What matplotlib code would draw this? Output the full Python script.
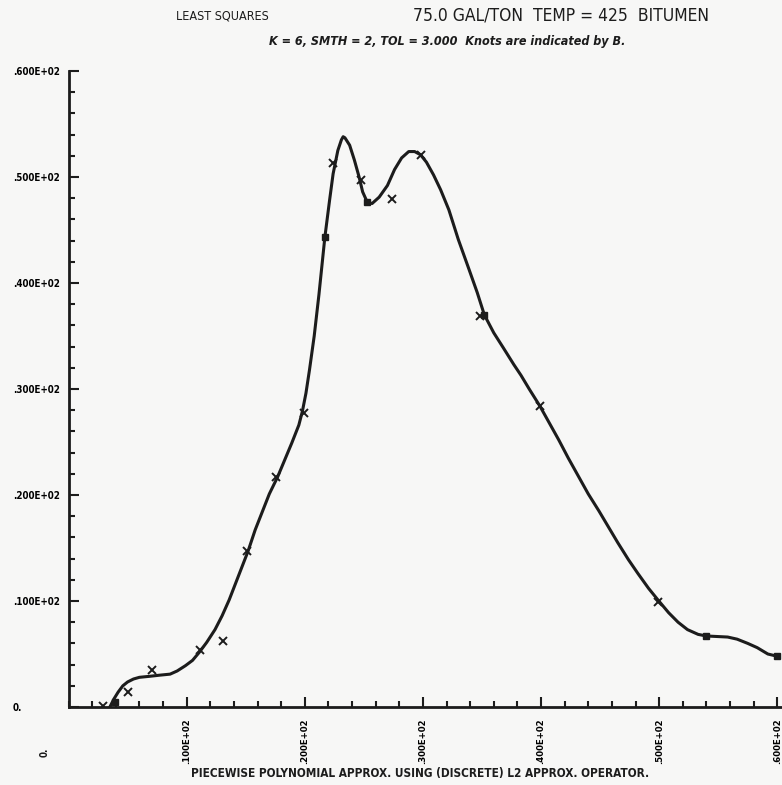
import numpy as np
import matplotlib
matplotlib.use("Agg")
import matplotlib.pyplot as plt
from matplotlib.ticker import MultipleLocator

plt.rcParams['font.family'] = ['DejaVu Sans']
plt.rcParams['font.stretch'] = 'condensed'

# observed data points (X marks)
obs_x = [2.9, 5.0, 7.05, 11.1, 13.1, 15.1, 17.6, 19.95, 22.4, 24.8, 27.4, 29.8, 34.8, 39.9, 49.9]
obs_y = [0.1, 1.4, 3.5, 5.4, 6.2, 14.7, 21.7, 27.7, 51.3, 49.7, 47.9, 52.1, 36.9, 28.4, 9.9]

# fitted curve
fit_x = [3.5, 3.84, 4.2, 4.6, 5.0, 5.5, 6.0, 6.9, 7.7, 8.6, 9.2, 9.9, 10.5, 11.1, 11.7,
         12.4, 13.0, 13.6, 14.4, 15.2, 15.8, 16.4, 17.0, 17.7, 18.3, 18.9, 19.5, 19.8,
         20.1, 20.4, 20.8, 21.2, 21.7, 22.1, 22.4, 22.8, 23.1, 23.25, 23.4, 23.8, 24.2,
         24.6, 24.9, 25.3, 25.7, 26.3, 27.0, 27.6, 28.2, 28.8, 29.3, 29.8, 30.3, 30.9,
         31.5, 32.2, 33.0, 33.9, 34.6, 35.2, 36.0, 36.8, 37.7, 38.3, 39.0, 39.9, 40.6,
         41.5, 42.3, 43.2, 44.0, 44.9, 45.7, 46.5, 47.4, 48.2, 49.1, 49.9, 50.8, 51.6,
         52.4, 53.3, 54.0, 54.9, 55.8, 56.6, 57.5, 58.3, 59.2, 59.95]
fit_y = [0.0, 0.75, 1.4, 2.0, 2.36, 2.64, 2.8, 2.9, 3.0, 3.1, 3.4, 3.9, 4.4, 5.2, 6.1,
         7.3, 8.6, 10.1, 12.4, 14.7, 16.7, 18.4, 20.1, 21.7, 23.3, 24.9, 26.6, 27.9,
         29.6, 31.8, 35.0, 38.9, 44.3, 47.8, 50.3, 52.5, 53.5, 53.8, 53.7, 53.0, 51.6,
         50.0, 48.6, 47.6, 47.5, 48.1, 49.2, 50.7, 51.8, 52.4, 52.4, 52.1, 51.4, 50.2,
         48.8, 46.9, 44.1, 41.3, 39.1, 37.0, 35.3, 33.9, 32.3, 31.3, 30.0, 28.4, 27.0,
         25.2, 23.5, 21.7, 20.1, 18.5, 17.0, 15.5, 13.9, 12.6, 11.2, 10.1, 8.9, 8.0,
         7.3, 6.85, 6.7, 6.65, 6.6, 6.4, 6.0, 5.6, 5.0, 4.8]

# knots (marked B)
knot_x = [3.9, 21.7, 25.3, 35.2, 54.0, 59.95]
knot_y = [0.5, 44.3, 47.6, 37.0, 6.7, 4.8]

xticks = [10, 20, 30, 40, 50, 60]
xtick_labels = ['.100E+02', '.200E+02', '.300E+02', '.400E+02', '.500E+02', '.600E+02']
yticks = [0, 10, 20, 30, 40, 50, 60]
ytick_labels = ['0.', '.100E+02', '.200E+02', '.300E+02', '.400E+02', '.500E+02', '.600E+02']

ink = '#1c1c1c'
bg = '#f7f7f6'

fig = plt.figure(figsize=(7.82, 7.85), dpi=100, facecolor=bg)
ax = fig.add_axes([68.5 / 782, 78 / 785, 1 - 68.5 / 782, 636 / 785])
ax.set_facecolor(bg)

ax.plot(fit_x, fit_y, color=ink, lw=2.2, solid_joinstyle='round', solid_capstyle='round')
ax.plot(obs_x, obs_y, 'x', color=ink, ms=6, mew=1.4)
ax.plot(knot_x, knot_y, 's', color=ink, ms=4)

ax.set_xlim(0, 60.4)
ax.set_ylim(0, 60)
for s in ['top', 'right']:
    ax.spines[s].set_visible(False)
for s in ['left', 'bottom']:
    ax.spines[s].set_linewidth(2)
    ax.spines[s].set_color(ink)

ax.set_xticks(xticks)
ax.set_xticklabels(xtick_labels, rotation=90, fontsize=6.8, fontweight='bold', va='top')
ax.set_yticks(yticks)
ax.set_yticklabels(ytick_labels, fontsize=7, fontweight='bold', ha='left')
ax.xaxis.set_minor_locator(MultipleLocator(2))
ax.yaxis.set_minor_locator(MultipleLocator(2))
ax.tick_params(which='major', direction='in', length=7, width=1.5, color=ink)
ax.tick_params(which='minor', direction='in', length=4.5, width=1.5, color=ink)
ax.tick_params(axis='x', pad=8)
ax.tick_params(axis='y', pad=40)

fig.text(222 / 782, 1 - 16 / 785, 'LEAST SQUARES', ha='center', va='center',
         fontsize=9, color=ink)
fig.text(561 / 782, 1 - 16 / 785, '75.0 GAL/TON  TEMP = 425  BITUMEN', ha='center',
         va='center', fontsize=12.5, color=ink)
fig.text(447 / 782, 1 - 42 / 785, 'K = 6, SMTH = 2, TOL = 3.000  Knots are indicated by B.',
         ha='center', va='center', fontsize=9, style='italic', fontweight='bold', color=ink)
fig.text(420 / 782, 1 - 773 / 785,
         'PIECEWISE POLYNOMIAL APPROX. USING (DISCRETE) L2 APPROX. OPERATOR.',
         ha='center', va='center', fontsize=8.5, fontweight='bold', color=ink)
fig.text(45 / 782, 1 - 752 / 785, '0.', rotation=90, ha='center', va='center',
         fontsize=7, fontweight='bold', color=ink)

fig.savefig('out.png', dpi=100, facecolor=bg)
